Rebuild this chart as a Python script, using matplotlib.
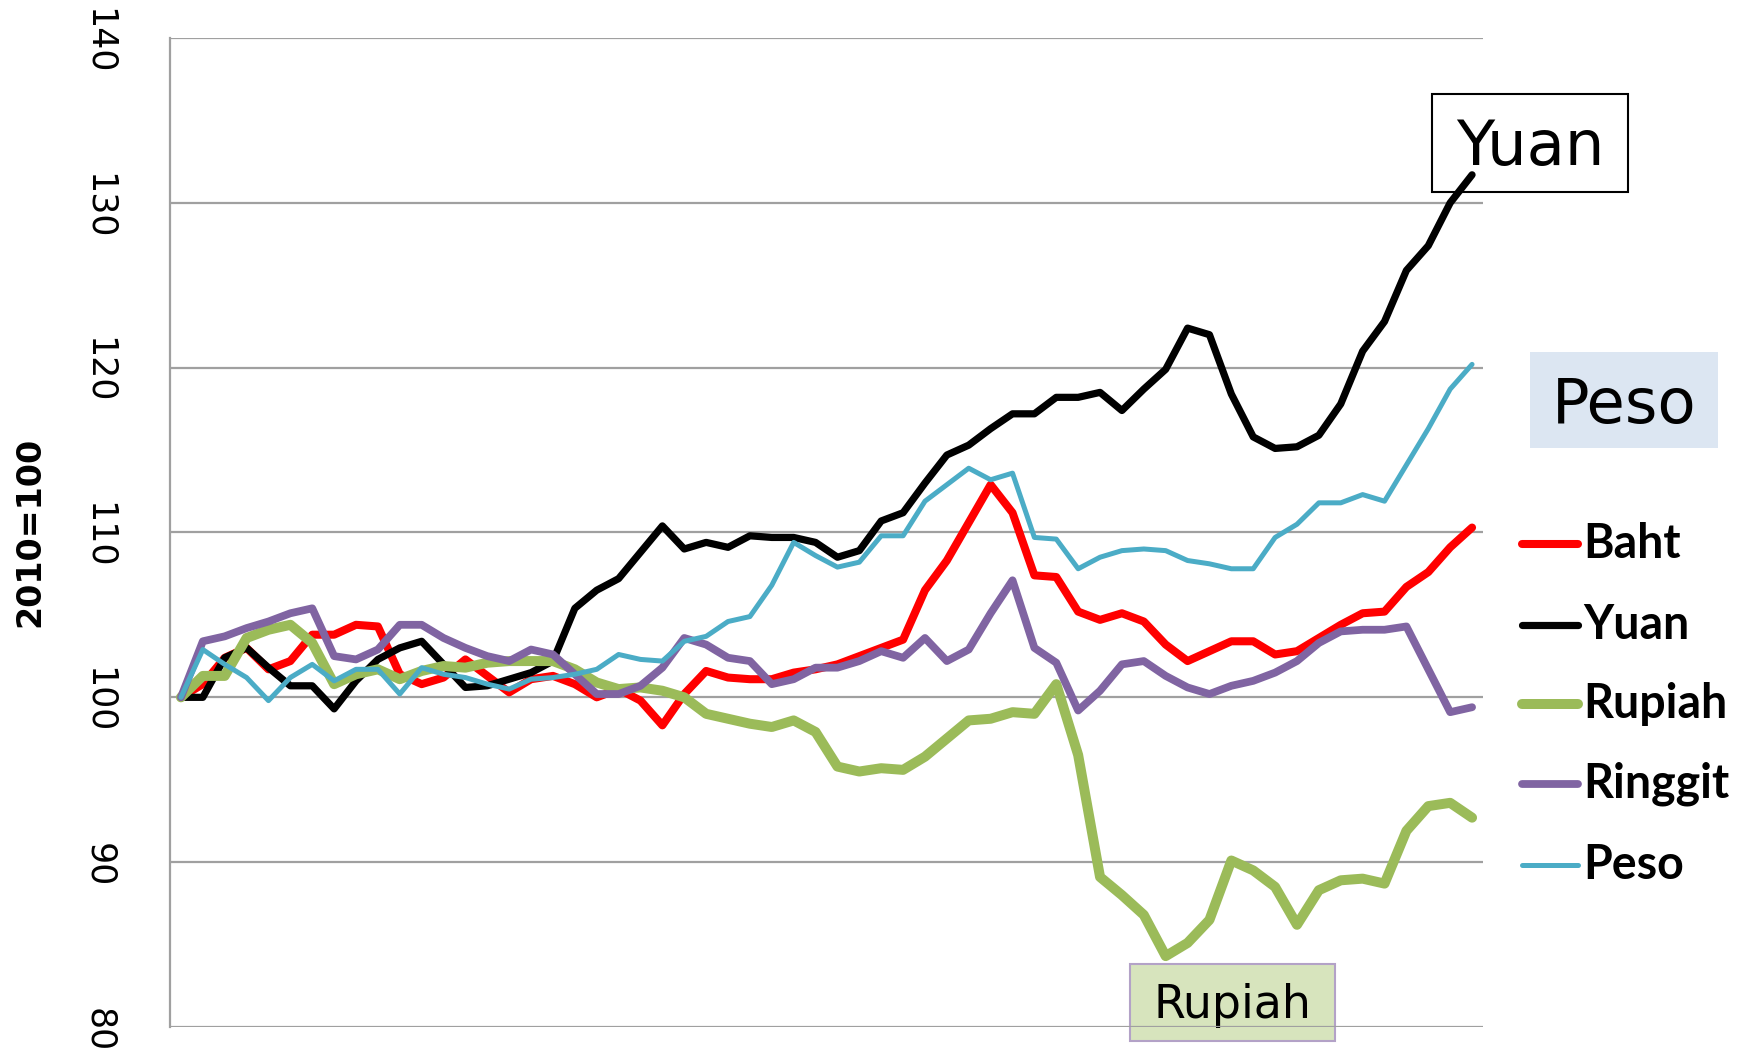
#Índices de câmbio 2010=100 (60 meses)

import matplotlib.pyplot as plt
import matplotlib.transforms as mtransforms
from matplotlib.patches import Rectangle
from matplotlib.lines import Line2D

W, H = 1742, 1057

baht = [100, 100.8, 102.4, 103.0, 101.7, 102.2, 103.8, 103.8, 104.4, 104.3,
        101.4, 100.8, 101.2, 102.3, 101.3, 100.3, 101.1, 101.3, 100.8, 100.0,
        100.5, 99.8, 98.3, 100.2, 101.6, 101.2, 101.1, 101.1, 101.5, 101.7,
        102.0, 102.5, 103.0, 103.5, 106.5, 108.3, 110.6, 112.9, 111.2, 107.4,
        107.3, 105.2, 104.7, 105.1, 104.6, 103.2, 102.2, 102.8, 103.4, 103.4,
        102.6, 102.8, 103.6, 104.4, 105.1, 105.2, 106.7, 107.6, 109.1, 110.3]
yuan = [100, 100, 102.4, 103.0, 101.8, 100.7, 100.7, 99.3, 101.0, 102.3,
        103.0, 103.4, 102.0, 100.6, 100.7, 101.1, 101.5, 102.2, 105.4, 106.5,
        107.2, 108.8, 110.4, 109.0, 109.4, 109.1, 109.8, 109.7, 109.7, 109.4,
        108.5, 108.9, 110.7, 111.2, 113.0, 114.7, 115.3, 116.3, 117.2, 117.2,
        118.2, 118.2, 118.5, 117.4, 118.7, 119.9, 122.4, 122.0, 118.4, 115.8,
        115.1, 115.2, 115.9, 117.8, 121.0, 122.8, 125.9, 127.4, 130.0, 131.7]
rupiah = [100, 101.3, 101.3, 103.6, 104.1, 104.4, 103.3, 100.8, 101.4, 101.7,
          101.1, 101.6, 101.9, 101.8, 102.1, 102.2, 102.2, 102.2, 101.7, 100.9,
          100.5, 100.6, 100.4, 100.0, 99.0, 98.7, 98.4, 98.2, 98.6, 97.9,
          95.8, 95.5, 95.7, 95.6, 96.4, 97.5, 98.6, 98.7, 99.1, 99.0,
          100.8, 96.5, 89.1, 88.0, 86.8, 84.3, 85.1, 86.5, 90.1, 89.5,
          88.5, 86.2, 88.3, 88.9, 89.0, 88.7, 91.9, 93.4, 93.6, 92.7]
ringgit = [100, 103.4, 103.7, 104.2, 104.6, 105.1, 105.4, 102.5, 102.3, 102.9,
           104.4, 104.4, 103.6, 103.0, 102.5, 102.2, 102.9, 102.6, 101.4, 100.2,
           100.2, 100.7, 101.8, 103.6, 103.2, 102.4, 102.2, 100.8, 101.1, 101.8,
           101.8, 102.2, 102.8, 102.4, 103.6, 102.2, 102.9, 105.1, 107.1, 103.0,
           102.1, 99.2, 100.4, 102.0, 102.2, 101.3, 100.6, 100.2, 100.7, 101.0,
           101.5, 102.2, 103.3, 104.0, 104.1, 104.1, 104.3, 101.7, 99.1, 99.4]
peso = [100, 102.9, 102.0, 101.2, 99.8, 101.2, 102.0, 101.0, 101.7, 101.7,
        100.2, 101.8, 101.4, 101.2, 100.8, 100.5, 101.1, 101.2, 101.4, 101.7,
        102.6, 102.3, 102.2, 103.4, 103.7, 104.6, 104.9, 106.8, 109.4, 108.6,
        107.9, 108.2, 109.8, 109.8, 111.9, 112.9, 113.9, 113.2, 113.6, 109.7,
        109.6, 107.8, 108.5, 108.9, 109.0, 108.9, 108.3, 108.1, 107.8, 107.8,
        109.7, 110.5, 111.8, 111.8, 112.3, 111.9, 114.1, 116.3, 118.7, 120.2]

names = ['Baht', 'Yuan', 'Rupiah', 'Ringgit', 'Peso']
series = [baht, yuan, rupiah, ringgit, peso]
colors = ['#FF0000', '#000000', '#9BBB59', '#8064A2', '#4BACC6']
widths = [5.8, 5.2, 7.2, 5.6, 3.6]
y_ticks = [80, 90, 100, 110, 120, 130, 140]

fig = plt.figure(figsize=(W / 100, H / 100), dpi=100)
ax = fig.add_axes([170 / W, 1 - 1027 / H, 1313 / W, 989 / H])
ax.patch.set_visible(False)

for vals, name, c, lw in zip(series, names, colors, widths):
    ax.plot(range(len(vals)), vals, color=c, lw=lw, solid_capstyle='round',
            solid_joinstyle='round', label=name)

ax.set_xlim(-0.5, len(baht) - 0.5)
ax.set_ylim(80, 140)
ax.set_yticks(y_ticks)
ax.set_xticks([])
ax.yaxis.grid(True, color='#A0A0A0', lw=1.6)
ax.set_axisbelow(True)
for s in ['top', 'right', 'bottom']:
    ax.spines[s].set_visible(False)
ax.spines['left'].set_color('#A0A0A0')
ax.spines['left'].set_linewidth(1.6)
ax.tick_params(axis='y', length=0, pad=39, labelsize=25, labelrotation=-90)
desloc = mtransforms.ScaledTranslation(0, -3 / 100, fig.dpi_scale_trans)
for lab in ax.get_yticklabels():
    lab.set_va('center')
    lab.set_transform(lab.get_transform() + desloc)

fig.text(30 / W, 1 - 532 / H, '2010=100', rotation=90, ha='center', va='center',
         fontsize=24, fontweight='bold')

# legenda manual à direita
leg_y = [544, 625, 704, 784, 865]
for name, c, lw, yy in zip(names, colors, widths, leg_y):
    fig.lines.append(Line2D([1522 / W, 1578 / W], [1 - yy / H, 1 - yy / H],
                            transform=fig.transFigure, color=c, lw=lw,
                            solid_capstyle='round'))
    fig.text(1583 / W, 1 - yy / H, name, ha='left', va='center', fontsize=33.5,
             fontweight='bold', family='Lato')

# caixas de rótulo (atrás das linhas)
def caixa(x0, y0, x1, y1, face, edge, texto, size, dy):
    fig.patches.append(Rectangle((x0 / W, 1 - y1 / H), (x1 - x0) / W, (y1 - y0) / H,
                                 transform=fig.transFigure, facecolor=face,
                                 edgecolor=edge, lw=1.5, zorder=-1))
    fig.text((x0 + x1) / 2 / W, 1 - ((y0 + y1) / 2 + dy) / H, texto, ha='center',
             va='center', fontsize=size, zorder=-0.5)

caixa(1432, 94, 1628, 192, 'white', 'black', 'Yuan', 45, 5)
caixa(1530, 352, 1718, 448, '#DCE6F2', 'none', 'Peso', 45, 6)
caixa(1130, 964, 1335, 1041, '#D7E4BD', '#B3A2C7', 'Rupiah', 33, 3)

plt.savefig('out.png', dpi=100)
